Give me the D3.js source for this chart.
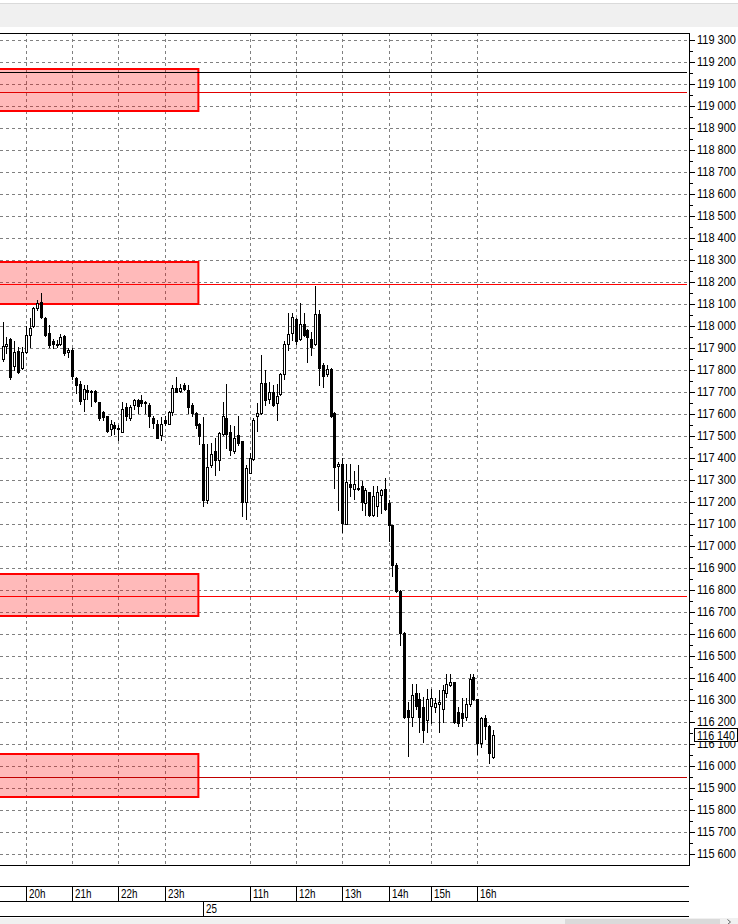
<!DOCTYPE html>
<html><head><meta charset="utf-8">
<script src="https://cdn.jsdelivr.net/npm/d3@7"></script>
<style>
html,body{margin:0;padding:0;background:#fff;overflow:hidden}
svg{display:block}
text{font-family:"Liberation Sans",Arial,sans-serif;font-size:12px;fill:#000}
</style></head><body>
<svg id="c" width="738" height="924"></svg>
<script>
// ---------- DATA ----------
const sessions = [
  {day:"24", from:"19:30", to:"23:45"},
  {day:"25", from:"10:00", to:"13:55"},
  {day:"25", from:"14:05", to:"16:20"}
];
const open = [
 117850,117910,117940,117820,117885,117810,117880,117960,118000,118080,118110,118035,117970,117930,117920,117920,
 117955,117880,117890,117765,117735,117670,117710,117700,117705,117655,117610,117590,117530,117550,117535,117520,
 117630,117580,117640,117665,117665,117655,117640,117580,117555,117505,117575,117555,117610,117720,117705,117730,
 117710,117640,117605,117555,117465,117210,117370,117430,117390,117510,117580,117520,117430,117505,117475,117200,
 117330,117395,117590,117605,117740,117670,117700,117650,117690,117780,117920,117970,118030,117940,118010,117980,
 117940,117920,118055,117825,117780,117805,117605,117365,117375,117100,117280,117260,117265,117275,117195,117245,
 117140,117180,117230,117260,117195,117095,116915,116795,116605,116255,116225,116330,116305,116270,116210,116275,
 116270,116280,116260,116330,116370,116380,116245,116240,116225,116280,116405,116305,116105,116220,116180,116040];
const high = [
 118020,117950,117945,117930,117905,117905,118000,118035,118085,118120,118150,118040,118005,117940,117935,117965,
 117960,117900,117900,117770,117750,117730,117730,117710,117710,117655,117615,117590,117575,117565,117550,117655,
 117650,117640,117670,117670,117685,117660,117650,117590,117575,117585,117590,117615,117730,117770,117735,117740,
 117730,117650,117610,117560,117585,117465,117470,117490,117520,117655,117735,117550,117545,117590,117475,117370,
 117425,117580,117650,117870,117800,117745,117730,117735,117785,117930,118060,118060,118035,118105,118060,117985,
 117975,118180,118075,117830,117825,117810,117610,117380,117400,117375,117375,117340,117370,117295,117265,117245,
 117275,117275,117260,117310,117210,117095,116925,116800,116610,116290,116375,116375,116330,116315,116350,116350,
 116310,116345,116370,116420,116420,116380,116270,116310,116310,116420,116420,116305,116225,116230,116185,116165];
const low = [
 117840,117875,117760,117800,117785,117805,117875,117905,117995,118075,118035,117955,117905,117900,117905,117915,
 117870,117860,117760,117695,117645,117615,117670,117635,117655,117575,117575,117520,117505,117510,117480,117520,
 117575,117575,117625,117605,117635,117605,117540,117535,117490,117480,117550,117555,117595,117700,117700,117710,
 117605,117590,117535,117465,117180,117195,117360,117325,117345,117505,117445,117415,117425,117460,117135,117125,
 117330,117390,117525,117600,117640,117650,117635,117575,117685,117760,117890,117935,117920,117935,117955,117835,
 117870,117915,117730,117725,117775,117585,117265,117165,117065,117100,117225,117215,117255,117165,117140,117135,
 117135,117135,117150,117165,117025,116865,116790,116550,116220,116045,116180,116260,116155,116110,116155,116195,
 116245,116155,116200,116315,116365,116195,116180,116180,116210,116275,116300,116055,116085,116125,116015,116035];
const close = [
 117910,117920,117770,117880,117790,117880,117960,117990,118080,118105,118040,117960,117915,117920,117915,117950,
 117875,117890,117775,117730,117660,117715,117700,117705,117660,117580,117585,117525,117555,117535,117530,117625,
 117590,117630,117665,117635,117650,117655,117590,117560,117490,117555,117560,117610,117720,117700,117720,117715,
 117630,117605,117550,117500,117210,117360,117420,117390,117515,117590,117510,117435,117490,117470,117200,117355,
 117400,117575,117605,117740,117665,117700,117640,117680,117780,117920,117965,118040,117930,118010,117960,117950,
 117905,118055,117810,117775,117805,117590,117360,117375,117105,117290,117270,117280,117260,117200,117255,117140,
 117225,117245,117255,117170,117095,116915,116795,116605,116225,116225,116325,116275,116225,116165,116305,116310,
 116285,116290,116345,116375,116380,116200,116195,116220,116280,116395,116305,116105,116220,116180,116060,116140];
const hourTicks = [
  {key:"24 20:00",label:"20h"},{key:"24 21:00",label:"21h"},{key:"24 22:00",label:"22h"},
  {key:"24 23:00",label:"23h"},{key:"25 11:00",label:"11h"},{key:"25 12:00",label:"12h"},
  {key:"25 13:00",label:"13h"},{key:"25 14:05",label:"14h"},{key:"25 15:00",label:"15h"},
  {key:"25 16:00",label:"16h"}];
const dayTicks = [{key:"25 10:00",label:"25"}];
const priceTicks = [115600,115700,115800,115900,116000,116100,116200,116300,116400,116500,
  116600,116700,116800,116900,117000,117100,117200,117300,117400,117500,117600,117700,117800,
  117900,118000,118100,118200,118300,118400,118500,118600,118700,118800,118900,119000,119100,
  119200,119300];
const levels = [
  {price:119155,color:"#000000"},{price:119065,color:"#e00000"},
  {price:118190,color:"#ff0000"},{price:116775,color:"#ff0000"},{price:115950,color:"#c00000"}];
const zones = [
  {top:119170,bottom:118975},{top:118290,bottom:118100},
  {top:116875,bottom:116680},{top:116055,bottom:115860}];
const zoneEnd = "24 23:45";
const lastPrice = 116140;

// ---------- BUILD ----------
const pad = n => (n<10?"0":"")+n;
function buildTimes(){
  const out=[];
  sessions.forEach(s=>{
    let [h,m]=s.from.split(":").map(Number);
    const [eh,em]=s.to.split(":").map(Number);
    while(h*60+m<=eh*60+em){ out.push({day:s.day,time:pad(h)+":"+pad(m)}); m+=5; if(m>=60){m-=60;h++;} }
  });
  return out;
}
const bars = buildTimes().map((t,i)=>({key:t.day+" "+t.time,o:open[i],h:high[i],l:low[i],c:close[i]}));

const plot={left:0,right:689,top:33,bottom:865};
const svg=d3.select("#c");
const step=3.86;
const x=d3.scaleBand().domain(bars.map(d=>d.key)).range([0.6,0.6+bars.length*step]).padding(0);
const cx=k=>x(k)+x.bandwidth()/2;
const y=d3.scaleLinear().domain([115600,119300]).range([854,40]);
const fmt=v=>d3.format(",")(v).replace(/,/g," ");
// horizontally condense a text to a target width by a transform (keeps it real text)
function fitWidth(node, x0, target){
  const w=node.getComputedTextLength();
  const s=Math.min(1,target/w);
  node.setAttribute("x",0);
  node.setAttribute("transform",`translate(${x0},0) scale(${s.toFixed(3)},1)`);
}

// header band
svg.append("rect").attr("x",0).attr("y",3).attr("width",738).attr("height",24).attr("fill","#f0f0f0");
svg.append("line").attr("x1",0).attr("x2",738).attr("y1",3.5).attr("y2",3.5).attr("stroke","#dadada");

// grid
const grid=svg.append("g").attr("stroke","#808080").attr("stroke-dasharray","3,3").attr("shape-rendering","crispEdges");
grid.selectAll("line.h").data(priceTicks).join("line")
  .attr("x1",plot.left).attr("x2",plot.right)
  .attr("y1",d=>Math.round(y(d))+0.5).attr("y2",d=>Math.round(y(d))+0.5);
grid.selectAll("line.v").data(hourTicks).join("line")
  .attr("x1",d=>Math.round(cx(d.key))+0.5).attr("x2",d=>Math.round(cx(d.key))+0.5)
  .attr("y1",plot.top).attr("y2",plot.bottom);

// zones
const zx2=cx(zoneEnd)-1;
svg.append("g").selectAll("rect").data(zones).join("rect")
  .attr("x",-5).attr("width",zx2+5)
  .attr("y",d=>Math.round(y(d.top))).attr("height",d=>Math.round(y(d.bottom))-Math.round(y(d.top)))
  .attr("fill","#ff0000").attr("fill-opacity",0.27)
  .attr("stroke","#ff0000").attr("stroke-width",2);

// levels
svg.append("g").attr("shape-rendering","crispEdges").selectAll("line").data(levels).join("line")
  .attr("x1",0).attr("x2",687)
  .attr("y1",d=>Math.round(y(d.price))+0.5).attr("y2",d=>Math.round(y(d.price))+0.5)
  .attr("stroke",d=>d.color).attr("stroke-width",1);

// candles
const cg=svg.append("g").attr("shape-rendering","crispEdges");
bars.forEach(d=>{
  const c=Math.round(cx(d.key));
  const yh=Math.round(y(d.h)), yl=Math.round(y(d.l));
  const yt=Math.round(y(Math.max(d.o,d.c))), yb=Math.round(y(Math.min(d.o,d.c)));
  cg.append("line").attr("x1",c+0.5).attr("x2",c+0.5).attr("y1",yh).attr("y2",yl+1).attr("stroke","#000");
  if(d.c>=d.o){
    cg.append("rect").attr("x",c-0.5).attr("y",yt+0.5).attr("width",2).attr("height",Math.max(1,yb-yt))
      .attr("fill","#fff").attr("stroke","#000");
  } else {
    cg.append("rect").attr("x",c-1).attr("y",yt).attr("width",3).attr("height",Math.max(1,yb-yt+1)).attr("fill","#000");
  }
});

// frame
const fr=svg.append("g").attr("stroke","#000").attr("shape-rendering","crispEdges");
fr.append("line").attr("x1",0).attr("x2",plot.right+0.5).attr("y1",plot.top+0.5).attr("y2",plot.top+0.5);
fr.append("line").attr("x1",0).attr("x2",plot.right+0.5).attr("y1",plot.bottom+0.5).attr("y2",plot.bottom+0.5);
fr.append("line").attr("x1",plot.right+0.5).attr("x2",plot.right+0.5).attr("y1",plot.top).attr("y2",plot.bottom+1);

// right axis
const ax=svg.append("g").attr("transform",`translate(${plot.right+0.5},0)`).attr("shape-rendering","crispEdges");
ax.call(d3.axisRight(y).tickValues(priceTicks).tickSize(5).tickPadding(3).tickFormat(fmt).offset(0));
ax.select(".domain").remove();
ax.selectAll("text").attr("font-family",null).attr("font-size",null).attr("fill","#000")
  .each(function(){ fitWidth(this,7.5,39); });
const axm=svg.append("g").attr("transform",`translate(${plot.right+0.5},0)`).attr("shape-rendering","crispEdges");
axm.call(d3.axisRight(y).tickValues(priceTicks.slice(0,-1).map(v=>v+50)).tickSize(3).tickFormat("").offset(0));
axm.select(".domain").remove();
ax.selectAll(".tick line").attr("transform",d=>`translate(0,${Math.round(y(d))+0.5-y(d)})`);
axm.selectAll(".tick line").attr("transform",d=>`translate(0,${Math.round(y(d))+0.5-y(d)})`);

// last price label
const ly=y(lastPrice);
svg.append("rect").attr("x",694.5).attr("y",Math.round(ly)-6.5).attr("width",42.5).attr("height",13)
  .attr("fill","#fff").attr("stroke","#000").attr("shape-rendering","crispEdges");
const lp=svg.append("text").attr("y",ly).attr("dy","0.36em").text(fmt(lastPrice));
fitWidth(lp.node(),697,38);

// time axis
const ta=svg.append("g").attr("stroke","#000").attr("shape-rendering","crispEdges");
[886.5,901.5,916.5].forEach(v=>ta.append("line").attr("x1",0).attr("x2",plot.right).attr("y1",v).attr("y2",v));
const tl=svg.append("g");
hourTicks.forEach(d=>{
  const xx=Math.round(cx(d.key))+0.5;
  ta.append("line").attr("x1",xx).attr("x2",xx).attr("y1",886).attr("y2",901);
  const t=tl.append("text").attr("y",898).text(d.label);
  fitWidth(t.node(),xx+2.5,t.node().getComputedTextLength()*0.82);
});
dayTicks.forEach(d=>{
  const xx=Math.round(cx(d.key))+0.5;
  ta.append("line").attr("x1",xx).attr("x2",xx).attr("y1",901).attr("y2",916);
  const t=tl.append("text").attr("y",913).text(d.label);
  fitWidth(t.node(),xx+2.5,t.node().getComputedTextLength()*0.82);
});

// scrollbar
svg.append("rect").attr("x",0).attr("y",918).attr("width",738).attr("height",6).attr("fill","#f0f0f0");
svg.append("rect").attr("x",565).attr("y",919).attr("width",155).attr("height",5).attr("fill","#dadada");
svg.append("path").attr("d","M727.5,919.5 L730.5,922 L727.5,924.5").attr("fill","none").attr("stroke","#606060");
</script>
</body></html>
